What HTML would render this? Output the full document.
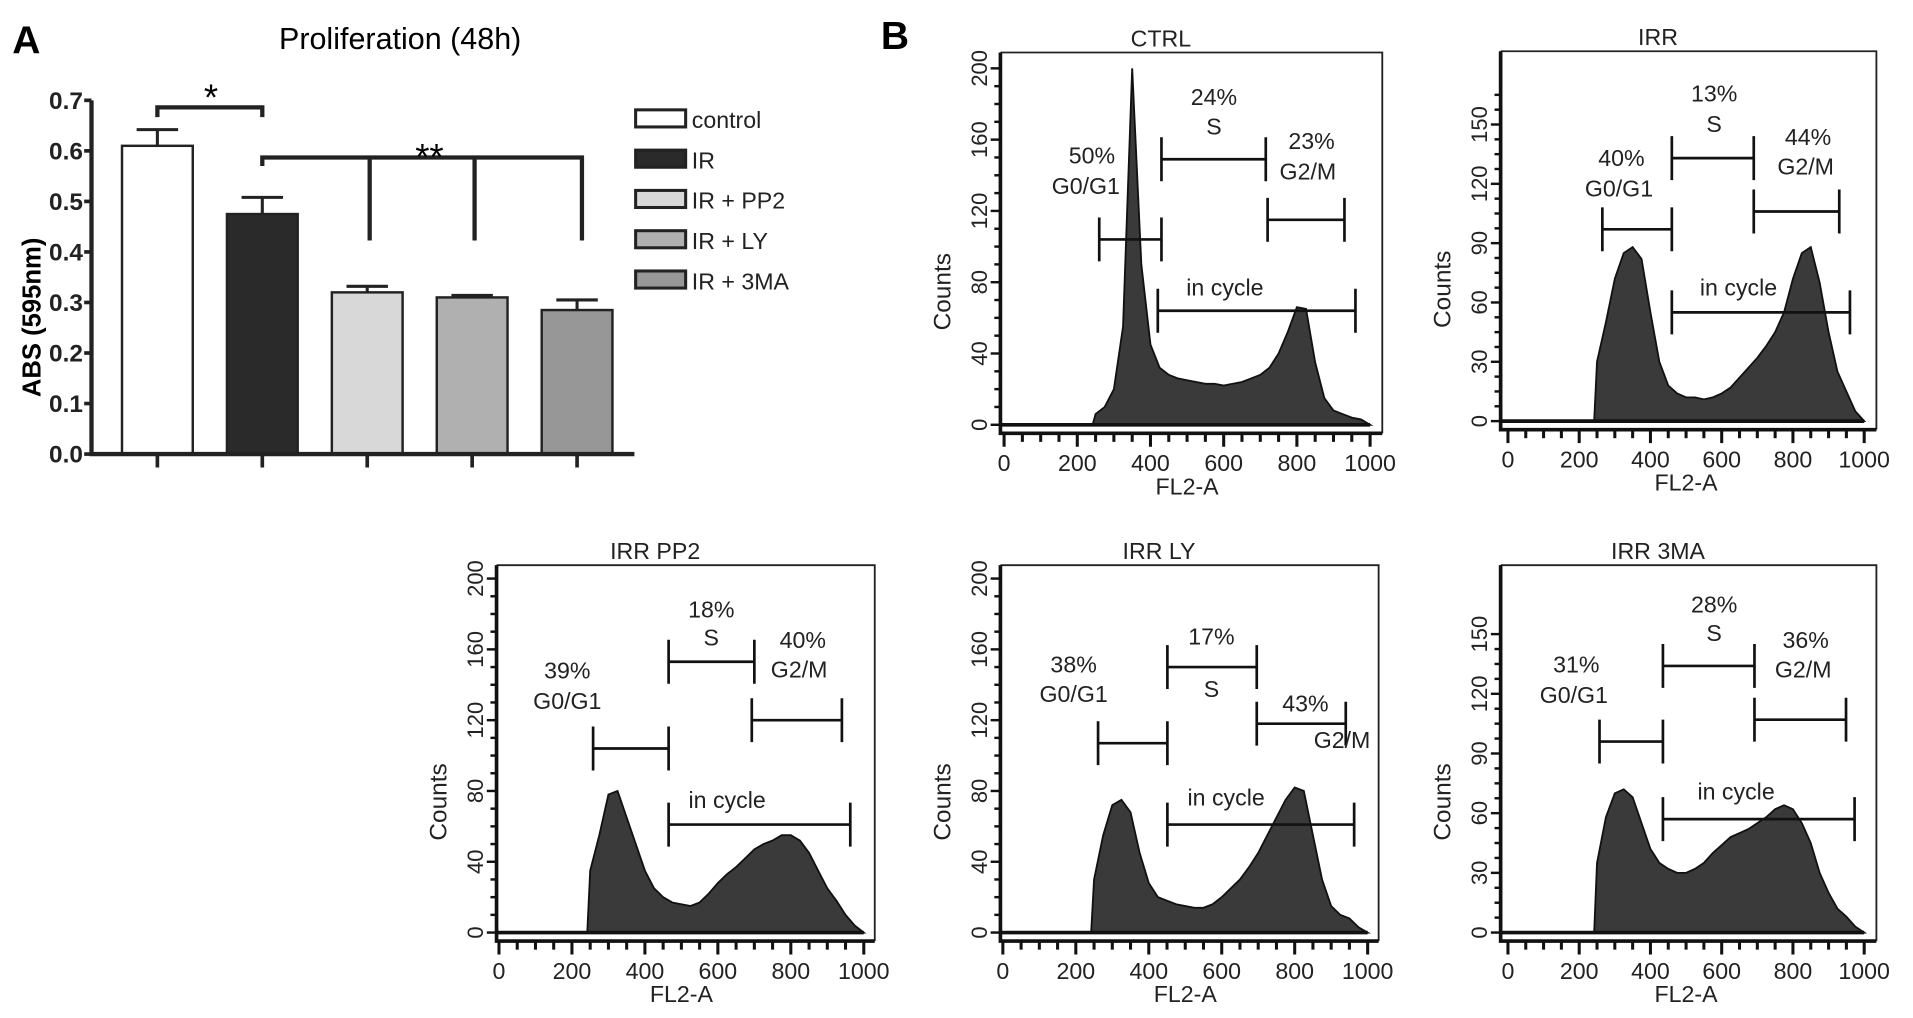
<!DOCTYPE html>
<html><head><meta charset="utf-8"><style>
html,body{margin:0;padding:0;background:#fff;}
svg{display:block;font-family:"Liberation Sans",sans-serif;}
</style></head><body>
<svg id="fig" width="1913" height="1018" viewBox="0 0 1568 834" preserveAspectRatio="none" xmlns="http://www.w3.org/2000/svg">
<text x="10" y="44" font-size="32" font-weight="bold">A</text>
<text x="722" y="40" font-size="32" font-weight="bold">B</text>
<text x="328" y="40" font-size="25" text-anchor="middle">Proliferation (48h)</text>
<text transform="translate(33,260) rotate(-90)" font-size="21" font-weight="bold" text-anchor="middle">ABS (595nm)</text>
<g id="barchart"></g>
<g id="hists"></g>
</svg>
<script>
// ---- bar chart data ----
const barCategories = ["control","IR","IR + PP2","IR + LY","IR + 3MA"];
const barValues = [0.61,0.475,0.32,0.31,0.285];
const barErrors = [0.032,0.033,0.012,0.004,0.02];
const barTicks = ["0.0","0.1","0.2","0.3","0.4","0.5","0.6","0.7"];
const barFills = ["#ffffff","#2a2a2a","#d8d8d8","#b0b0b0","#979797"];

// ---- histogram data (counts at FL2-A = 0,25,...,1000) ----
const ctrlCounts = [0,0,0,0,0,0,0,0,0,0,6,10,20,55,200,90,45,32,28,26,25,24,23,23,22,23,24,26,28,32,40,52,66,65,35,15,8,6,4,3,0];
const irrCounts  = [0,0,0,0,0,0,0,0,0,0,30,50,72,85,88,82,55,30,18,14,12,12,11,12,14,17,22,27,32,38,45,55,72,85,88,70,45,25,15,5,0];
const pp2Counts  = [0,0,0,0,0,0,0,0,0,0,35,55,78,80,65,50,35,25,20,17,16,15,17,22,28,33,37,42,47,50,52,55,55,52,45,35,25,18,10,4,0];
const lyCounts   = [0,0,0,0,0,0,0,0,0,0,30,55,72,75,68,45,28,20,18,16,15,14,14,16,20,25,30,37,45,55,65,75,82,80,55,30,15,10,8,3,0];
const maCounts   = [0,0,0,0,0,0,0,0,0,0,35,58,70,72,68,55,42,35,32,30,30,32,35,40,44,48,50,52,55,58,62,64,62,55,45,30,20,12,8,3,0];
const xTickLabels = ["0","200","400","600","800","1000"];
// gates: [xStart, xEnd, count]
const ctrlGates = [[260,430,104],[430,715,149],[720,930,115],[420,960,64]];
const irrGates  = [[265,460,97],[460,690,133],[690,930,106],[460,960,55]];
const pp2Gates  = [[258,465,104],[465,700,153],[693,940,120],[465,963,61]];
const lyGates   = [[261,451,107],[451,696,150],[696,940,118],[451,963,61]];
const maGates   = [[257,435,96],[435,692,134],[692,949,107],[435,973,57]];

const NS="http://www.w3.org/2000/svg";
function mk(tag,attrs,parent,text){const e=document.createElementNS(NS,tag);for(const k in attrs)e.setAttribute(k,attrs[k]);if(text!==undefined)e.textContent=text;parent.appendChild(e);return e;}

// ---- draw bar chart ----
(function(){
  const g=document.getElementById('barchart');
  const ax=75, y0=372, pxPer=414;
  const yS=v=>y0-v*pxPer;
  const xC=i=>129+i*86;
  barTicks.forEach((t,i)=>{
    const v=parseFloat(t);
    const tk=mk('line',{x1:ax-6,x2:ax,y1:yS(v),y2:yS(v),stroke:'#222','stroke-width':3},g);
    
    
    const tl=mk('text',{x:ax-7,y:yS(v)+7,'font-size':20,'text-anchor':'end','font-weight':'bold',fill:'#222'},g,t);
    
    
  });
  barValues.forEach((v,i)=>{
    const cx=xC(i);
    const b=mk('rect',{x:cx-29,y:yS(v),width:58,height:y0-yS(v),fill:barFills[i],stroke:'#222','stroke-width':2},g);
    
    
    const e=mk('path',{d:`M${cx} ${yS(v)} V${yS(v+barErrors[i])} M${cx-17} ${yS(v+barErrors[i])} H${cx+17}`,stroke:'#222','stroke-width':2.5,fill:'none'},g);
    
    
    const ct=mk('line',{x1:cx,x2:cx,y1:y0,y2:y0+11,stroke:'#222','stroke-width':3},g);
    
    
    const lg=mk('rect',{x:521,y:90+i*33,width:41,height:14,fill:barFills[i],stroke:'#222','stroke-width':2.5},g);
    
    
    const lt=mk('text',{x:567,y:105+i*33,'font-size':19,fill:'#222'},g,barCategories[i]);
    
    
  });
  const axl=mk('path',{d:`M${ax} ${yS(0.7)} V${y0} H520`,stroke:'#222','stroke-width':3.5,fill:'none'},g);
  
  
  const s1=mk('path',{d:`M${xC(0)} 96 V88 H${xC(1)} V96`,stroke:'#222','stroke-width':3.5,fill:'none'},g);
  
  
  const st1=mk('text',{x:173,y:90,'font-size':30,'text-anchor':'middle'},g,'*');
  
  
  const s2=mk('path',{d:`M${xC(1)} 136 V129 H${xC(4)+4} V197 M${xC(2)+2} 129 V197 M${xC(3)+2} 129 V197`,stroke:'#222','stroke-width':3.5,fill:'none'},g);
  
  
  const st2=mk('text',{x:352,y:139,'font-size':30,'text-anchor':'middle'},g,'**');
  
  
})();

// ---- histogram panels ----
const layouts=[
 {name:'ctrl',title:'CTRL',counts:ctrlCounts,gates:ctrlGates,ax:820,right:1133,top:43,bot:355,x0:823,xs:0.30,base:348,ys:1.46,yMax:200,yStep:40,yMinor:10,
  labels:[['50%',895,134],['G0/G1',890,159],['24%',995,86],['S',995,110],['23%',1075,122],['G2/M',1072,147],['in cycle',1004,242]]},
 {name:'irr',title:'IRR',counts:irrCounts,gates:irrGates,ax:1230,right:1538,top:42,bot:352,x0:1236,xs:0.292,base:345,ys:1.62,yMax:165,yStep:30,yMinor:7.5,
  labels:[['40%',1329,136],['G0/G1',1327,161],['13%',1405,83],['S',1405,108],['44%',1482,119],['G2/M',1480,143],['in cycle',1425,242]]},
 {name:'pp2',title:'IRR PP2',counts:pp2Counts,gates:pp2Gates,ax:407,right:717,top:463,bot:771,x0:409,xs:0.299,base:764,ys:1.45,yMax:200,yStep:40,yMinor:10,
  labels:[['39%',465,556],['G0/G1',465,581],['18%',583,506],['S',583,529],['40%',658,531],['G2/M',655,555],['in cycle',596,662]]},
 {name:'ly',title:'IRR LY',counts:lyCounts,gates:lyGates,ax:820,right:1130,top:463,bot:771,x0:822,xs:0.299,base:764,ys:1.45,yMax:200,yStep:40,yMinor:10,
  labels:[['38%',880,551],['G0/G1',880,575],['17%',993,528],['S',993,571],['43%',1070,583],['G2/M',1100,613],['in cycle',1005,660]]},
 {name:'3ma',title:'IRR 3MA',counts:maCounts,gates:maGates,ax:1230,right:1538,top:463,bot:771,x0:1236,xs:0.292,base:764,ys:1.63,yMax:150,yStep:30,yMinor:7.5,
  labels:[['31%',1292,551],['G0/G1',1290,576],['28%',1405,502],['S',1405,525],['36%',1480,531],['G2/M',1478,555],['in cycle',1423,655]]}
];
const hg=document.getElementById('hists');
layouts.forEach(L=>{
  const g=mk('g',{},hg);
  
  
  const X=v=>L.x0+v*L.xs, Y=c=>L.base-c*L.ys;
  let d=`M${X(0)} ${Y(0)}`;
  L.counts.forEach((c,i)=>{
    const prev=i>0?L.counts[i-1]:0;
    if(prev===0&&c>0) d+=` L${X(i*25-8)} ${Y(0)}`;
    d+=` L${X(i*25)} ${Y(c)}`;
  });
  d+=` L${X(1000)} ${Y(0)} Z`;
  const a=mk('path',{d:d,fill:'#3a3a3a',stroke:'#111','stroke-width':1.5},g);
  
  
  const bl=mk('line',{x1:L.ax,x2:X(1000),y1:L.base,y2:L.base,stroke:'#111','stroke-width':3},g);
  
  
  const fr=mk('path',{d:`M${L.ax} ${L.top} H${L.right} V${L.bot}`,stroke:'#222','stroke-width':1.5,fill:'none'},g);
  
  
  const axs=mk('path',{d:`M${L.ax} ${L.top} V${L.bot} H${L.right}`,stroke:'#111','stroke-width':3,fill:'none'},g);
  
  
  for(let c=0;c<=L.yMax+0.01;c+=L.yMinor){
    const major=Math.abs(c/L.yStep-Math.round(c/L.yStep))<1e-6;
    const t=mk('line',{x1:L.ax-(major?8:5),x2:L.ax,y1:Y(c),y2:Y(c),stroke:'#111','stroke-width':2},g);
    
    
    if(major){
      const tl=mk('text',{transform:`translate(${L.ax-11},${Y(c)}) rotate(-90)`,'font-size':18,'text-anchor':'middle',fill:'#222'},g,String(Math.round(c)));
      
      
    }
  }
  for(let v=0;v<=1000;v+=50){
    const major=v%200===0;
    const t=mk('line',{x1:X(v),x2:X(v),y1:L.bot,y2:L.bot+(major?11:7),stroke:'#111','stroke-width':2.5},g);
    
    
  }
  xTickLabels.forEach(s=>{
    const tl=mk('text',{x:X(parseFloat(s)),y:L.bot+31,'font-size':19,'text-anchor':'middle',fill:'#222'},g,s);
    
    
  });
  const xt=mk('text',{x:X(500),y:L.bot+50,'font-size':19,'text-anchor':'middle',fill:'#222'},g,'FL2-A');
  
  
  const yt=mk('text',{transform:`translate(${L.ax-41},${(L.top+L.bot)/2+40}) rotate(-90)`,'font-size':20,'text-anchor':'middle',fill:'#222'},g,'Counts');
  
  
  const tt=mk('text',{x:(L.ax+L.right)/2-25,y:L.top-5,'font-size':19,'text-anchor':'middle',fill:'#222'},g,L.title);
  
  
  L.gates.forEach(gt=>{
    const y=Y(gt[2]);
    const p=mk('path',{d:`M${X(gt[0])} ${y-18} V${y+18} M${X(gt[0])} ${y} H${X(gt[1])} M${X(gt[1])} ${y-18} V${y+18}`,stroke:'#111','stroke-width':2.2,fill:'none'},g);
    
    
  });
  L.labels.forEach(lb=>{
    const t=mk('text',{x:lb[1],y:lb[2],'font-size':19,'text-anchor':'middle',fill:'#222'},g,lb[0]);
    
    
  });
});
</script>
</body></html>
